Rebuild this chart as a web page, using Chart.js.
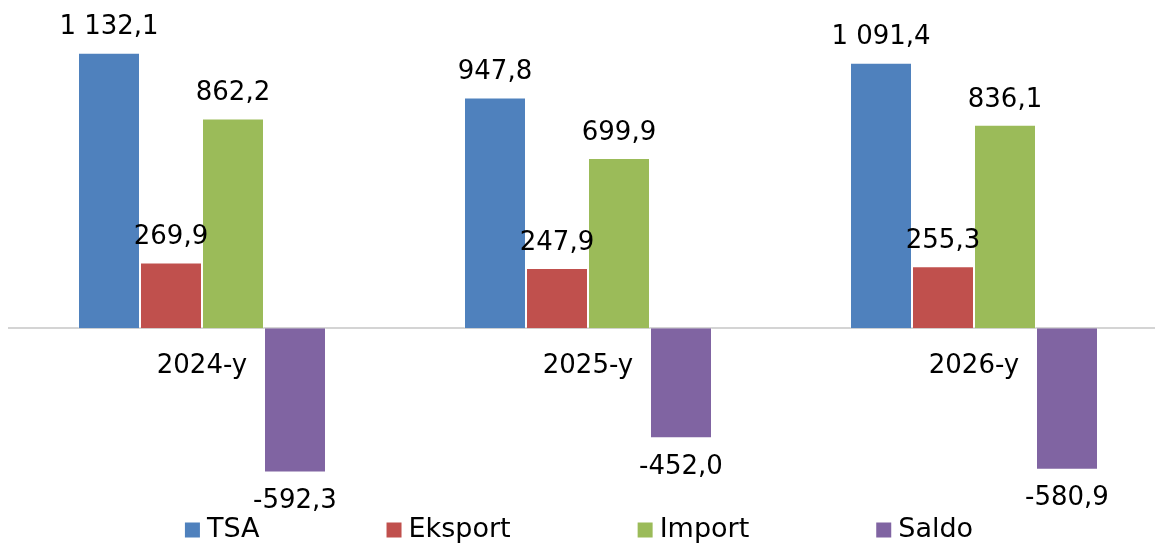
<!DOCTYPE html>
<html>
<head>
<meta charset="utf-8">
<script src="https://cdn.jsdelivr.net/npm/chart.js@4"></script>
<style>
  html, body { margin: 0; padding: 0; background: #fff; overflow: hidden; }
  #wrap { position: relative; width: 1167px; height: 543px; }
</style>
</head>
<body>
<div id="wrap"><canvas id="c"></canvas></div>
<script>
const categories = ["2024-y", "2025-y", "2026-y"];
const seriesNames = ["TSA", "Eksport", "Import", "Saldo"];
const tsa = [1132.1, 947.8, 1091.4];
const eksport = [269.9, 247.9, 255.3];
const importV = [862.2, 699.9, 836.1];
const saldo = [-592.3, -452.0, -580.9];
const colors = ["#4F81BD", "#C0504D", "#9BBB59", "#8064A2"];

const FONT = "'DejaVu Sans', Verdana, sans-serif";

function fmt(v) {
  const s = Math.abs(v).toFixed(1).split(".");
  const intPart = s[0].replace(/\B(?=(\d{3})+(?!\d))/g, " ");
  return (v < 0 ? "-" : "") + intPart + "," + s[1];
}

const valueLabels = {
  id: "valueLabels",
  afterDatasetsDraw(chart) {
    const ctx = chart.ctx;
    ctx.save();
    ctx.font = "26px " + FONT;
    ctx.fillStyle = "#000";
    ctx.textAlign = "center";
    ctx.textBaseline = "middle";
    chart.data.datasets.forEach((ds, i) => {
      const meta = chart.getDatasetMeta(i);
      meta.data.forEach((el, j) => {
        const v = ds.data[j];
        const y = v >= 0 ? el.y - 25 : el.y + 29;
        ctx.fillText(fmt(v), el.x, y);
      });
    });
    ctx.restore();
  }
};

const bottomLegend = {
  id: "bottomLegend",
  afterDraw(chart) {
    const ctx = chart.ctx;
    ctx.save();
    ctx.font = "27px " + FONT;
    ctx.textBaseline = "middle";
    ctx.textAlign = "left";
    const box = 15, boxGap = 7, itemGap = 127;
    const items = chart.data.datasets.map(ds => ({ text: ds.label, color: ds.backgroundColor, w: ctx.measureText(ds.label).width }));
    let total = 0;
    items.forEach((it, i) => { total += box + boxGap + it.w + (i < items.length - 1 ? itemGap : 0); });
    let x = 579 - total / 2;
    const yc = 530;
    items.forEach(it => {
      ctx.fillStyle = it.color;
      ctx.fillRect(x, yc - box / 2, box, box);
      ctx.fillStyle = "#000";
      ctx.fillText(it.text, x + box + boxGap, yc);
      x += box + boxGap + it.w + itemGap;
    });
    ctx.restore();
  }
};

const allSeries = [tsa, eksport, importV, saldo];

new Chart(document.getElementById("c"), {
  type: "bar",
  data: {
    labels: categories,
    datasets: allSeries.map((d, i) => ({
      label: seriesNames[i],
      data: d,
      backgroundColor: colors[i],
      borderColor: "rgba(255,255,255,0.3)",
      borderWidth: 1,
      categoryPercentage: 0.6425,
      barPercentage: 1.0
    }))
  },
  options: {
    responsive: true,
    maintainAspectRatio: false,
    animation: false,
    devicePixelRatio: 1,
    layout: { padding: { top: 7, bottom: 37, left: 9, right: 0 } },
    plugins: { legend: { display: false }, tooltip: { enabled: false } },
    scales: {
      y: {
        display: false,
        min: -730,
        max: 1320
      },
      x: {
        position: { y: 0 },
        grid: { display: false, drawTicks: false },
        border: { display: true, color: "#d4d4d4", width: 2 },
        ticks: { color: "#000", font: { family: FONT, size: 26 }, padding: 22 }
      }
    }
  },
  plugins: [valueLabels, bottomLegend]
});
</script>
</body>
</html>
